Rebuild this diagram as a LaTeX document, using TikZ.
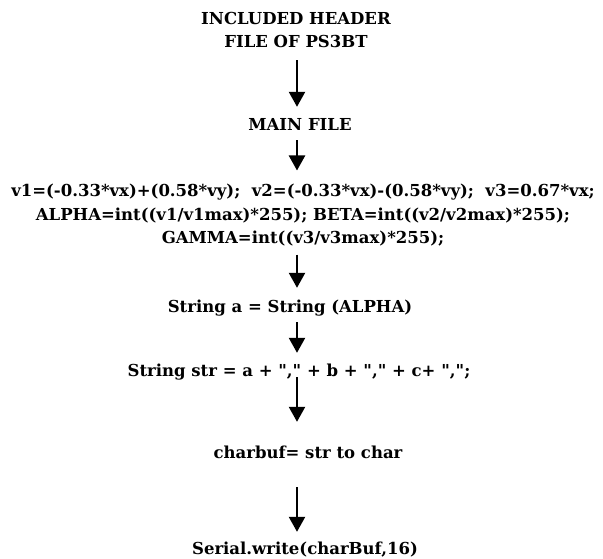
\documentclass[tikz,border=0pt]{standalone}
\usepackage{fontspec}
\setmainfont{DejaVu Serif}
\usetikzlibrary{arrows.meta}

\begin{document}
\begin{tikzpicture}[x=1pt, y=-1pt,
			stepbox/.style={font=\bfseries\fontsize{16.5}{24}\selectfont, inner sep=0pt, text height=11pt, text depth=3.5pt, anchor=base},
			block/.style={font=\bfseries\fontsize{16.5}{23.5}\selectfont, inner sep=0pt, align=center, anchor=north},
			flow/.style={line width=2.4pt, -{Triangle[width=16pt,length=15pt]}}
			]
			\useasboundingbox (0,0) rectangle (603,559);
			\coordinate (axis) at (297,0);
			
			\node [block](hdr) at (296,12) {INCLUDED HEADER\\FILE OF PS3BT};
			
			\node [stepbox](main) at (300,131) {MAIN FILE};
			
			\node [block](calc) at (303,184) {v1=(-0.33*vx)+(0.58*vy);\ \ v2=(-0.33*vx)-(0.58*vy);\ \ v3=0.67*vx;\\
				ALPHA=int((v1/v1max)*255); BETA=int((v2/v2max)*255);\\
				GAMMA=int((v3/v3max)*255);};
			
			\node [stepbox](stra) at (290,312) {String a = String (ALPHA)};
			
			\node [stepbox](strs) at (299,376) {String str = a + \textquotedbl,\textquotedbl{} + b + \textquotedbl,\textquotedbl{} + c+ \textquotedbl,\textquotedbl;};
			
			\node [stepbox](cbuf) at (308,458) {charbuf= str to char};
			
			\node [stepbox](serial) at (305,554) {Serial.write(charBuf,16)};
			
			\draw[flow, shorten <=12pt, shorten >=13pt] (hdr.south -| axis) -- (main.north -| axis);
			\draw[flow, shorten <=5.5pt, shorten >=13.5pt] (main.south -| axis) -- (calc.north -| axis);
			\draw[flow, shorten <=8pt, shorten >=13pt] (calc.south -| axis) -- (stra.north -| axis);
			\draw[flow, shorten <=6.5pt, shorten >=12pt] (stra.south -| axis) -- (strs.north -| axis);
			\draw[flow, shorten <=-2.5pt, shorten >=25pt] (strs.south -| axis) -- (cbuf.north -| axis);
			\draw[flow, shorten <=25.5pt, shorten >=11pt] (cbuf.south -| axis) -- (serial.north -| axis);
			
		\end{tikzpicture}
\end{document}
